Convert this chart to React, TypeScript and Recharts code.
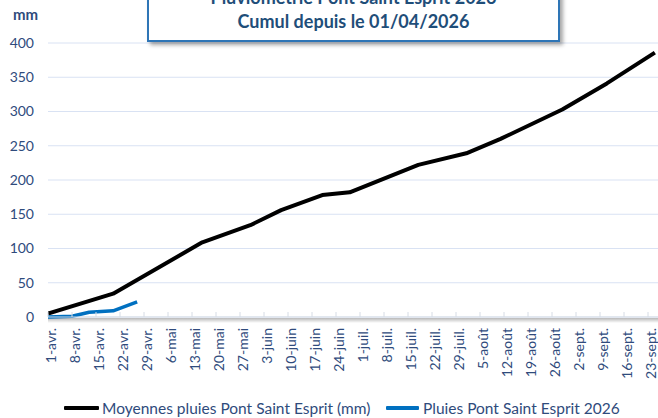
import React from 'react';
import { LineChart, Line, XAxis, YAxis, CartesianGrid, Legend } from 'recharts';

const tickDays = [0, 7, 14, 21, 28, 35, 42, 49, 56, 63, 70, 77, 84, 91, 98, 105, 112, 119, 126, 133, 140, 147, 154, 161, 168, 175];
const tickLabels = ['1-avr.', '8-avr.', '15-avr.', '22-avr.', '29-avr.', '6-mai', '13-mai', '20-mai', '27-mai', '3-juin', '10-juin', '17-juin', '24-juin', '1-juil.', '8-juil.', '15-juil.', '22-juil.', '29-juil.', '5-août', '12-août', '19-août', '26-août', '2-sept.', '9-sept.', '16-sept.', '23-sept.'];
const yTicks = [0, 50, 100, 150, 200, 250, 300, 350, 400];

const moyDays = [0, 19, 45, 59, 68, 80, 88, 108, 122, 132, 150, 163, 177];
const moyValues = [5, 34, 109, 134, 156, 178, 182, 222, 239, 260, 303, 341, 386];

const pluieDays = [0, 7, 12, 19, 26];
const pluieValues = [0, 1, 7, 9, 22];

const moyData = moyDays.map((d, i) => ({ day: d, v: moyValues[i] }));
const pluieData = pluieDays.map((d, i) => ({ day: d, v: pluieValues[i] }));

const TXT = '#2F4B7C';
const FONT = 'Lato, "Open Sans", sans-serif';

const XTick = (props: any) => {
  const { x, y, payload } = props;
  const idx = tickDays.indexOf(payload.value);
  return (
    <g>
      <line x1={x} x2={x} y1={y} y2={y - 5} stroke="#D6DCE5" strokeWidth={1} />
      <text
        transform={`translate(${x + 8},${y + 11}) rotate(-90)`}
        textAnchor="end"
        fill={TXT}
        fontSize={14}
        fontFamily={FONT}
      >
        {idx >= 0 ? tickLabels[idx] : ''}
      </text>
    </g>
  );
};

const legendPos = [
  { sample: 64, sw: 35, text: 102 },
  { sample: 386, sw: 33, text: 423 },
];

const renderLegend = (props: any) => {
  const payload = props.payload || [];
  return (
    <div style={{ position: 'relative', width: 690, height: 20, fontFamily: FONT, fontSize: 15.5, color: TXT }}>
      {payload.map((p: any, i: number) => (
        <React.Fragment key={i}>
          <span style={{ position: 'absolute', left: legendPos[i].sample, top: 8, width: legendPos[i].sw, height: 4, background: p.color, borderRadius: 1 }} />
          <span style={{ position: 'absolute', left: legendPos[i].text, top: 0, lineHeight: '20px', whiteSpace: 'nowrap' }}>{p.value}</span>
        </React.Fragment>
      ))}
    </div>
  );
};

export default function App() {
  return (
    <div style={{ position: 'absolute', left: 0, top: 0, width: 658, height: 418, overflow: 'hidden', background: '#fff' }}>
      <div style={{ position: 'absolute', left: 48, top: 318, width: 640, height: 5, background: 'linear-gradient(rgba(0,0,0,0.28), rgba(0,0,0,0))' }} />
      <LineChart width={690} height={418} margin={{ top: 43, right: 18, left: 0, bottom: 0 }}>
        <CartesianGrid horizontal={true} vertical={false} stroke="#D9E2F3" strokeWidth={1} />
        <XAxis
          type="number"
          dataKey="day"
          domain={[0, 182]}
          ticks={tickDays}
          interval={0}
          height={101}
          tickLine={false}
          tickSize={0}
          tickMargin={0}
          axisLine={{ stroke: '#D6DCE5', strokeWidth: 1 }}
          tick={<XTick />}
          allowDataOverflow
        />
        <YAxis
          type="number"
          domain={[0, 400]}
          ticks={yTicks}
          width={48}
          tickLine={false}
          axisLine={false}
          tickSize={0}
          tickMargin={14}
          tick={{ fill: TXT, fontSize: 14, fontFamily: FONT }}
        />
        <Legend
          verticalAlign="middle"
          align="center"
          layout="horizontal"
          wrapperStyle={{ position: 'absolute', top: 398, left: 0, width: 690, height: 20 }}
          content={renderLegend}
        />
        <Line
          data={moyData}
          dataKey="v"
          name="Moyennes pluies Pont Saint Esprit (mm)"
          type="linear"
          stroke="#000000"
          strokeWidth={4}
          strokeLinejoin="round"
          dot={false}
          isAnimationActive={false}
        />
        <Line
          data={pluieData}
          dataKey="v"
          name="Pluies Pont Saint Esprit 2026"
          type="linear"
          stroke="#0070C0"
          strokeWidth={3.5}
          strokeLinejoin="round"
          dot={false}
          isAnimationActive={false}
        />
      </LineChart>
      <div style={{ position: 'absolute', left: 13, top: 4, fontFamily: FONT, fontSize: 15, fontWeight: 700, color: TXT, lineHeight: '20px' }}>mm</div>
      <div
        style={{
          position: 'absolute',
          left: 147,
          top: -24,
          width: 409,
          height: 62,
          border: '2px solid #2E75B6',
          background: '#fff',
          boxShadow: '3px 3px 4px rgba(0,0,0,0.35)',
          fontFamily: FONT,
          fontWeight: 700,
          fontSize: 18,
          lineHeight: '24px',
          color: '#1F4E79',
          textAlign: 'center',
          boxSizing: 'content-box',
        }}
      >
        <div style={{ paddingTop: 7 }}>Pluviométrie Pont Saint Esprit 2026</div>
        <div>Cumul depuis le 01/04/2026</div>
      </div>
    </div>
  );
}
